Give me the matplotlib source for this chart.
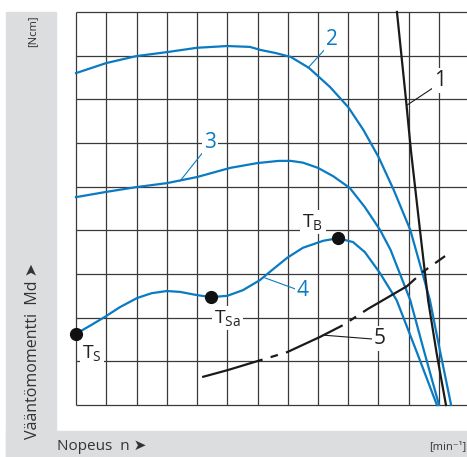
import matplotlib
matplotlib.use("Agg")
import matplotlib.pyplot as plt
from matplotlib.patches import Rectangle

plt.rcParams['font.family'] = ['Open Sans', 'DejaVu Sans']
plt.rcParams['mathtext.fontset'] = 'custom'
plt.rcParams['mathtext.rm'] = 'Open Sans'
plt.rcParams['mathtext.default'] = 'rm'

# kaavion arvot (ruudukon yksikoissa)
curve2_x = [0, 1.0, 2.0, 3.0, 4.0, 5.0, 5.75, 6.1, 6.6, 7.1, 7.7, 8.4, 9.0, 9.5, 10.0, 10.5, 11.05, 11.4, 11.7, 12.0, 12.4]
curve2_y = [7.60, 7.83, 7.99, 8.08, 8.18, 8.22, 8.20, 8.13, 8.06, 7.97, 7.72, 7.28, 6.82, 6.30, 5.68, 4.93, 4.01, 3.15, 2.40, 1.35, 0]

curve3_x = [0, 1.0, 2.0, 3.0, 4.0, 5.1, 6.0, 6.7, 7.1, 7.5, 8.0, 8.5, 9.05, 9.55, 10.05, 10.4, 10.7, 11.05, 11.5, 12.0]
curve3_y = [4.76, 4.88, 4.99, 5.08, 5.22, 5.43, 5.54, 5.59, 5.59, 5.55, 5.43, 5.24, 4.97, 4.53, 4.01, 3.55, 3.02, 2.40, 1.25, 0]

curve4_x = [0, 0.5, 0.96, 1.45, 2.02, 2.5, 3.0, 3.44, 3.97, 4.46, 5.0, 5.52, 6.08, 6.41, 6.98, 7.5, 8.17, 8.66, 9.16, 9.55, 10.05, 10.6, 11.3, 11.93]
curve4_y = [1.63, 1.83, 2.02, 2.24, 2.45, 2.56, 2.61, 2.59, 2.52, 2.47, 2.50, 2.63, 2.86, 3.05, 3.37, 3.60, 3.76, 3.82, 3.73, 3.50, 3.02, 2.40, 1.15, 0]

line1_x = [10.61, 10.91, 11.07, 11.37, 11.64, 11.93, 12.23]
line1_y = [9.0, 6.98, 5.84, 4.01, 2.40, 1.15, 0]

curve5_x = [4.17, 5.02, 6.02, 6.98, 8.07, 8.83, 9.65, 10.94, 11.47, 12.2]
curve5_y = [0.64, 0.80, 1.01, 1.21, 1.56, 1.83, 2.20, 2.72, 3.05, 3.41]

points_x = [0, 4.46, 8.66]
points_y = [1.63, 2.47, 3.82]
point_labels = ['T$_{S}$', 'T$_{Sa}$', 'T$_{B}$']

W, H = 467, 457
blue = '#0a7bc2'

fig = plt.figure(figsize=(W / 100, H / 100), dpi=100)
fig.patch.set_facecolor('white')

def fx(px):
    return px / W

def fy(py):
    return 1 - py / H

# harmaa kehys
gray = '#dcdddf'
fig.patches.append(Rectangle((fx(6), fy(457)), fx(56) - fx(6), fy(12) - fy(457),
                             transform=fig.transFigure, color=gray, zorder=0))
fig.patches.append(Rectangle((fx(6), fy(457)), fx(467) - fx(6), fy(431) - fy(457),
                             transform=fig.transFigure, color=gray, zorder=0))

# akselit: x_px = 76 + 30.25*x, y_px = 405 - 43.67*y
ax = fig.add_axes([fx(66), fy(421), fx(467) - fx(66), fy(6) - fy(421)])
ax.patch.set_alpha(0)
ax.set_xlim(-10 / 30.25, 391 / 30.25)
ax.set_ylim(-16 / 43.67, 399 / 43.67)
ax.axis('off')

xmax = 391 / 30.25
ax.vlines(range(13), 0, 9, color='#3a3a3a', lw=0.9, zorder=1)
ax.hlines(range(10), 0, xmax, color='#3a3a3a', lw=0.9, zorder=1)

ax.plot(curve2_x, curve2_y, color=blue, lw=1.6, zorder=3)
ax.plot(curve3_x, curve3_y, color=blue, lw=1.6, zorder=3)
ax.plot(curve4_x, curve4_y, color=blue, lw=1.6, zorder=3)
ax.plot(line1_x, line1_y, color='#1a1a1a', lw=1.6, zorder=3)
ax.plot(curve5_x, curve5_y, color='#1a1a1a', lw=1.6, zorder=3,
        linestyle=(0, (28.3, 3.8, 3.4, 3.8)))
ax.plot(points_x, points_y, 'o', color='#111111', ms=8.5, zorder=5)

box = dict(facecolor='white', edgecolor='none', pad=1.5)

# numerot ja viivat
ax.plot([10.95, 11.80], [6.87, 7.26], color='#1a1a1a', lw=0.8, zorder=2)
ax.text(12.03, 7.44, '1', fontsize=15, ha='center', va='center', color='#222222', bbox=box, zorder=4)
ax.plot([7.67, 8.26], [7.72, 8.17], color=blue, lw=0.8, zorder=2)
ax.text(8.46, 8.36, '2', fontsize=15, ha='center', va='center', color=blue, bbox=box, zorder=4)
ax.plot([3.44, 4.20], [5.13, 5.79], color=blue, lw=0.8, zorder=2)
ax.text(4.43, 6.0, '3', fontsize=15, ha='center', va='center', color=blue, bbox=box, zorder=4)
ax.plot([6.25, 7.24], [2.91, 2.66], color=blue, lw=0.8, zorder=2)
ax.text(7.5, 2.63, '4', fontsize=15, ha='center', va='center', color=blue, bbox=box, zorder=4)
ax.plot([8.17, 9.82], [1.60, 1.51], color='#1a1a1a', lw=0.8, zorder=2)
ax.text(10.05, 1.53, '5', fontsize=15, ha='center', va='center', color='#222222', bbox=box, zorder=4)

label_pos = [(0.53, 1.19), (5.02, 1.99), (7.83, 4.19)]
for (lx, ly), lab in zip(label_pos, point_labels):
    ax.text(lx, ly, lab, fontsize=14, ha='center', va='center', color='#222222', bbox=box, zorder=4)

# akselien tekstit
fig.text(fx(33), fy(31), '[Ncm]', rotation=90, fontsize=8, ha='center', va='center', color='#333333')
fig.text(fx(33), fy(439), 'Vääntömomentti  Md ➤', rotation=90, fontsize=11.5, ha='center', va='bottom', color='#333333')
fig.text(fx(57), fy(447), 'Nopeus  n ➤', fontsize=11, ha='left', va='center', color='#333333')
fig.text(fx(466), fy(447), '[min⁻¹]', fontsize=8, ha='right', va='center', color='#333333')

fig.savefig('out.png', dpi=100)
